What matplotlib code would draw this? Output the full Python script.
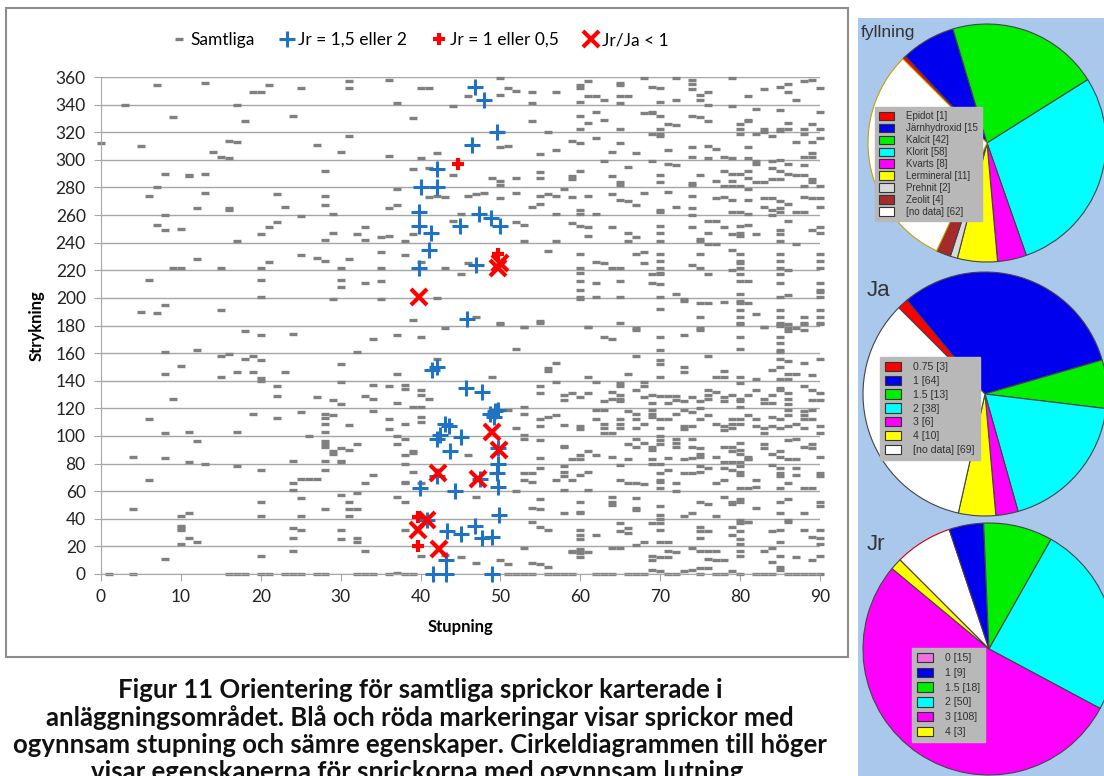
import matplotlib
matplotlib.use("Agg")
import matplotlib.pyplot as plt
from matplotlib.patches import Rectangle, Patch

W, H = 1104, 776

# Samtliga (stupning, strykning)
samtliga = [
(7,354),(13,356),(21,354),(19,349),(20,349),(25,352),(31,357),(31,352),(36,358),(40,352),(41,352),(3,340),(17,340),(37,341),(44,339),(9,331),(18,328),(24,332),(39,330),(0,312),(5,310),(16,314),(17,313),(27,311),(31,317),(14,306),(30,306),(15,302),(16,301),(36,303),(40,301),(42,305),(8,290),(11,289),(11,288),(13,290),(28,292),(39,293),(41,294),(44,289),(7,280),(6,274),(13,276),(22,275),(28,274),(37,279),(41,273),(42,274),(43,273),(12,265),(16,264),(16,265),(8,260),(23,266),(25,259),(28,267),(29,261),(36,265),(37,267),(44,256),(45,261),(7,253),(8,249),(10,250),(17,241),(20,246),(21,251),(22,255),(29,247),(28,242),(32,246),(33,251),(33,242),(35,244),(36,245),(38,241),(39,246),(12,228),(9,222),(10,222),(15,222),(20,222),(21,226),(25,231),(27,229),(28,227),(30,222),(31,228),(35,233),(35,222),(38,231),(40,226),(43,222),(6,213),(20,213),(30,208),(30,213),(33,211),(35,212),(5,190),(7,189),(8,195),(15,191),(20,201),(29,199),(35,199),(42,200),(39,184),(43,178),
(50,359),(51,352),(52,350),(50,347),(54,349),(57,349),(54,341),(60,354),(60,352),(61,357),(61,346),(62,346),(63,343),(65,354),(65,356),(65,346),(66,346),(65,341),(60,342),(68,359),(69,353),(70,352),(70,342),(72,359),(72,343),(74,358),(74,355),(74,351),(75,347),(76,349),(75,343),(76,340),(79,359),(81,346),(83,351),(85,353),(86,355),(86,349),(87,343),(88,357),(89,358),(90,352),(46,346),
(60,332),(61,327),(60,322),(62,335),(63,329),(54,328),(56,320),(65,322),(68,334),(69,335),(69,334),(70,332),(71,326),(72,325),(70,322),(69,319),(70,319),(70,317),(74,332),(75,331),(76,328),(79,339),(82,337),(85,336),(90,335),(80,326),(81,328),(81,329),(80,322),(80,319),(82,319),(83,320),(83,322),(86,327),(86,322),(89,326),(88,322),(88,319),(90,322),(85,321),(85,322),(84,317),
(50,320),(50,309),(51,310),(55,304),(57,307),(59,314),(60,312),(62,316),(65,312),(64,306),(67,305),(71,307),(74,309),(76,310),(77,308),(74,302),(76,301),(78,302),(81,309),(87,313),(89,313),(90,316),(79,301),(81,301),(88,302),(89,302),(89,305),
(63,299),(66,295),(69,299),(71,297),(72,296),(55,291),(55,287),(52,287),(49,287),(50,285),(50,282),(59,288),(59,286),(60,292),(64,288),(65,284),(65,282),(70,289),(70,284),(75,289),(74,283),(74,282),(77,285),(78,292),(79,285),(79,290),(80,290),(81,287),(81,292),(78,281),(79,281),(80,281),(82,299),(82,297),(84,299),(85,300),(84,294),(85,292),(86,290),(82,284),(83,284),(84,286),(85,286),(87,289),(88,289),(89,286),(88,281),(89,284),(90,281),(86,297),(88,296),
(46,274),(47,275),(48,276),(50,272),(52,276),(55,274),(56,275),(57,274),(54,266),(55,268),(57,261),(58,279),(59,273),(61,274),(64,275),(65,271),(66,270),(67,267),(68,276),(71,277),(72,266),(74,274),(74,265),(77,272),(78,273),(79,271),(81,271),(81,279),(83,272),(84,272),(85,270),(86,268),(88,273),(89,272),(90,272),(83,266),(84,264),(85,265),(85,262),(87,262),(88,262),(90,266),(60,264),(60,261),(62,261),(70,264),(70,262),(74,260),(79,262),(80,262),(81,261),(84,260),
(52,255),(53,253),(53,241),(57,241),(59,254),(60,252),(61,251),(61,245),(64,251),(66,247),(67,244),(66,241),(70,252),(70,247),(70,241),(74,251),(76,256),(77,256),(76,247),(75,243),(75,241),(76,239),(78,251),(79,246),(80,252),(80,247),(80,245),(81,253),(82,246),(85,249),(85,246),(85,241),(87,239),(89,249),(90,251),(90,247),(86,256),(77,239),
(56,234),(60,232),(62,226),(63,225),(64,222),(65,222),(67,232),(68,233),(68,225),(70,232),(70,227),(70,222),(74,224),(75,222),(75,232),(79,235),(79,220),(80,232),(80,227),(80,225),(80,222),(85,232),(85,227),(85,222),(86,220),(90,232),(90,227),(90,222),(60,222),(45,217),(46,225),
(60,218),(60,212),(60,206),(60,201),(60,199),(62,211),(65,212),(69,217),(70,217),(70,218),(69,211),(70,210),(72,203),(73,199),(73,198),(70,201),(62,201),(65,201),(76,217),(80,217),(80,212),(81,212),(80,203),(80,198),(85,217),(85,211),(86,202),(85,201),(90,211),(90,206),(90,204),(90,201),
(47,186),(50,181),(53,179),(55,182),(61,179),(67,178),(70,192),(75,196),(75,186),(75,178),(76,196),(78,197),(80,196),(81,196),(80,191),(82,188),(80,186),(80,181),(85,191),(85,186),(86,181),(85,181),(88,181),(88,186),(90,191),(90,186),(90,181),(83,179),(86,178),(87,178),
(18,176),(20,173),(24,174),(34,170),(37,173),(40,172),(8,161),(12,162),(15,158),(16,159),(18,156),(19,158),(20,155),(10,151),(8,145),(15,143),(17,146),(19,146),(20,142),(20,140),(23,146),(30,152),(32,161),(37,145),(42,156),(9,127),(22,136),(22,129),(27,128),(29,126),(30,123),(30,139),(33,129),(34,137),(34,127),(36,136),(38,137),(38,134),(37,124),(40,133),(40,130),(41,127),(39,121),(40,121),(6,112),(8,102),(11,103),(12,96),(17,103),(19,116),(22,113),(25,117),(26,100),(28,116),(29,115),(28,113),(28,109),(28,103),(31,108),(34,118),(36,112),(36,105),(38,109),(40,114),(40,110),(37,100),(38,98),(37,94),(28,92),(28,94),(28,96),(29,89),(29,87),(30,91),(31,90),(32,94),(39,89),(39,88),(38,86),(4,85),(8,84),(11,81),(13,80),(17,78),(20,75),(24,82),(28,82),(30,81),(30,82),(28,75),(38,80),(39,74),(6,68),(24,66),(25,69),(26,69),(27,69),(24,61),(25,55),(20,52),(30,57),(31,52),(32,59),(33,66),(34,72),(38,67),(38,66),(37,56),(38,52),(40,66),(4,47),(10,42),(11,44),(20,42),(25,42),(28,47),(31,47),(31,42),(32,47),(10,35),(10,33),(10,32),(11,26),(10,22),(12,23),(24,33),(25,32),(24,26),(30,32),(30,25),(32,26),(32,23),(38,32),(8,11),(20,13),(24,17),(33,17),(40,13),(43,14),
(1,0),(4,0),(16,0),(17,0),(18,0),(20,0),(21,0),(23,0),(24,0),(25,0),(27,0),(28,0),(32,0),(33,0),(34,0),(36,0),(37,1),(38,0),(39,0),
(50,182),(53,179),(55,183),(61,179),(65,182),(67,177),(70,172),(63,172),(64,170),(73,173),(75,177),(80,182),(80,172),(83,179),(85,180),(85,182),(85,172),(85,167),(85,162),(85,161),(86,176),(88,177),(88,182),(90,182),(52,163),(70,162),(80,163),
(57,153),(56,149),(56,147),(67,158),(70,155),(70,152),(76,158),(73,150),(73,146),(66,145),(61,143),(70,143),(78,147),(77,143),(78,143),(80,143),(84,148),(85,150),(86,154),(85,156),(88,153),(86,145),(87,145),(89,144),(90,156),(85,141),(86,141),(82,141),(49,143),
(55,131),(55,136),(57,139),(58,130),(58,126),(59,131),(60,128),(61,131),(62,139),(63,125),(64,127),(65,138),(65,136),(65,130),(65,127),(65,125),(64,132),(67,133),(68,139),(68,136),(68,128),(69,124),(69,130),(70,129),(71,129),(72,129),(71,124),(72,126),(73,125),(74,128),(75,125),(76,133),(76,130),(76,127),(77,132),(78,128),(78,125),(79,130),(80,127),(80,125),(80,138),(82,133),(83,127),(84,130),(84,124),(85,133),(86,131),(86,127),(85,135),(88,136),(89,133),(90,131),(89,126),(90,126),(81,130),(83,124),(86,123),
(51,119),(53,116),(53,121),(55,112),(56,114),(57,115),(55,107),(52,106),(58,108),(60,107),(60,105),(62,112),(62,119),(63,119),(63,106),(63,109),(65,112),(65,109),(65,106),(66,118),(67,116),(67,112),(67,106),(68,109),(69,114),(69,119),(69,116),(70,112),(70,106),(71,112),(72,116),(73,119),(73,105),(73,107),(74,107),(74,117),(75,120),(75,112),(76,115),(77,109),(78,104),(78,107),(79,112),(79,109),(79,106),(80,109),(80,112),(80,121),(81,115),(82,112),(82,107),(83,106),(84,107),(83,102),(84,114),(85,112),(86,115),(85,106),(86,107),(88,106),(87,109),(88,112),(89,112),(90,107),(90,102),(88,115),(89,119),(86,119),(88,118),(63,102),(64,102),
(53,101),(53,98),(55,97),(58,93),(61,89),(60,86),(60,83),(62,86),(64,85),(67,98),(68,95),(69,92),(69,90),(66,94),(67,92),(70,100),(70,97),(70,94),(72,98),(72,95),(72,92),(74,92),(74,98),(75,91),(75,87),(75,85),(73,83),(74,84),(78,92),(79,89),(79,92),(80,95),(80,90),(80,87),(81,85),(81,83),(83,91),(83,94),(84,87),(85,89),(85,85),(86,97),(87,98),(88,92),(89,91),(90,85),(89,94),(87,83),(86,83),(55,84),(46,86),(59,83),(66,83),(69,83),(71,84),(77,85),(78,81),(79,81),(80,81),(81,83),(58,92),
(53,73),(54,73),(55,77),(53,68),(54,67),(57,68),(58,71),(59,68),(58,78),(58,74),(60,72),(61,74),(58,61),(61,61),(65,79),(65,68),(66,66),(67,66),(68,65),(69,80),(70,80),(70,73),(71,75),(70,67),(70,62),(70,68),(72,66),(72,60),(73,73),(74,73),(75,74),(75,78),(76,77),(77,66),(78,68),(78,77),(79,75),(80,78),(80,74),(80,72),(81,62),(80,62),(82,68),(82,63),(84,79),(85,77),(85,73),(85,71),(87,77),(87,72),(90,73),(90,71),(85,62),(88,62),(89,62),(86,66),
(47,56),(52,60),(55,54),(54,48),(55,47),(58,44),(60,52),(60,45),(60,44),(64,50),(64,52),(64,56),(67,55),(67,46),(67,48),(70,49),(70,43),(70,40),(69,37),(70,37),(73,42),(74,44),(75,52),(76,51),(78,56),(79,51),(79,52),(80,52),(80,54),(77,42),(80,39),(81,38),(82,48),(85,52),(86,54),(85,44),(86,39),(86,38),(90,52),(90,49),(88,44),
(54,38),(55,34),(56,32),(60,32),(60,28),(60,25),(62,28),(65,37),(65,31),(66,33),(66,30),(70,32),(68,23),(70,23),(71,23),(75,34),(75,31),(76,31),(79,34),(79,28),(80,37),(80,31),(80,25),(80,22),(81,38),(84,31),(85,32),(85,23),(89,27),(90,32),(90,26),(90,22),(75,26),(88,32),
(45,12),(47,8),(50,10),(51,7),(53,19),(54,8),(55,7),(56,5),(59,17),(59,16),(60,17),(60,15),(60,12),(60,18),(61,16),(64,19),(65,19),(67,21),(69,13),(69,10),(70,12),(71,17),(72,16),(71,12),(74,19),(75,17),(76,17),(77,17),(76,11),(77,10),(78,10),(75,4),(76,4),(80,17),(80,13),(83,17),(84,19),(84,9),(85,13),(85,5),(85,3),(87,12),(89,10),(90,13),(69,3),(70,2),(73,2),(74,3),(79,2),(80,0),
(51,0),(52,0),(53,0),(54,0),(56,0),(57,0),(58,0),(59,0),(62,0),(63,0),(64,0),(66,0),(67,0),(68,0),(71,0),(72,0),(75,0),(77,0),(78,0),(82,0),(83,0),(84,0),(86,0),(87,0),(88,0),(89,0),(90,0),
]

# Jr = 1,5 eller 2
blue_stupning = [46.8, 48, 49.6, 46.4, 42, 40, 42.1, 39.8, 39.8, 41.3, 41, 39.8, 47.3, 48.8, 49.9, 44.9, 46.9, 45.8,
                 41.4, 42, 45.7, 47.7, 49.3, 49.7, 48.7, 49.2, 43, 43.5, 42.1, 42.4, 43.7, 42, 39.9, 44.3,
                 40.8, 43.3, 43.2, 41.5, 43.2, 45.1, 49.7, 49.7, 49.6, 49.7, 47.4, 49.8, 46.8, 45.1, 47.7, 48.9, 48.9]
blue_strykning = [353, 343, 320, 311, 293, 280, 280, 262, 252, 247, 235, 222, 261, 258, 252, 252, 224, 185,
                  148, 150, 135, 132, 118, 119, 116, 114, 109, 107, 98, 101, 89, 71, 62, 60,
                  39, 31, 10, 0, 0, 99, 91, 80, 73, 63, 69, 43, 35, 29, 26, 27, 0]

# Jr = 1 eller 0,5
red_stupning = [44.7, 49.7, 39.7, 39.7]
red_strykning = [297, 232, 41, 20]

# Jr/Ja < 1
x_stupning = [39.8, 49.7, 49.9, 42.2, 49, 49.8, 47.2, 40.8, 39.7, 42.3]
x_strykning = [201, 222, 225, 73, 103, 90, 69, 39, 32, 18]

# cirkeldiagram
fyll_labels = ["Epidot [1]", "Järnhydroxid [15", "Kalcit [42]", "Klorit [58]", "Kvarts [8]",
               "Lermineral [11]", "Prehnit [2]", "Zeolit [4]", "[no data] [62]"]
fyll_values = [1, 15, 42, 58, 8, 11, 2, 4, 62]
fyll_colors = ["#ff0000", "#0000ee", "#00ee00", "#00ffff", "#ff00ff", "#ffff00", "#d9d9d9", "#a52a2a", "#ffffff"]

ja_labels = ["0.75 [3]", "1 [64]", "1.5 [13]", "2 [38]", "3 [6]", "4 [10]", "[no data] [69]"]
ja_values = [3, 64, 13, 38, 6, 10, 69]
ja_colors = ["#ff0000", "#0000ee", "#00ee00", "#00ffff", "#ff00ff", "#ffff00", "#ffffff"]

jr_labels = ["0 [15]", "1 [9]", "1.5 [18]", "2 [50]", "3 [108]", "4 [3]"]
jr_values = [15, 9, 18, 50, 108, 3]
jr_colors = ["#ffffff", "#0000ee", "#00ee00", "#00ffff", "#ff00ff", "#ffff00"]

plt.rcParams['font.family'] = ['Lato', 'DejaVu Sans']

fig = plt.figure(figsize=(W / 100, H / 100), dpi=100)

# ram runt diagrammet
fig.patches.append(Rectangle((6 / W, 1 - 657 / H), 842 / W, 649 / H, transform=fig.transFigure,
                             fill=False, edgecolor="#8c8c8c", lw=1.5))

ax = fig.add_axes([101 / W, 1 - 574 / H, 719 / W, 497 / H])
st = [p[0] for p in samtliga]
sk = [p[1] for p in samtliga]
h1, = ax.plot(st, sk, ls='none', marker='_', ms=5.5, mew=2.4, color='#808080', clip_on=False, zorder=2)
h2, = ax.plot(blue_stupning, blue_strykning, ls='none', marker='+', ms=11, mew=2.2, color='#1f72c4',
              clip_on=False, zorder=3)
h3, = ax.plot(red_stupning, red_strykning, ls='none', marker='+', ms=9, mew=3, color='#ff0000',
              clip_on=False, zorder=4)
h4, = ax.plot(x_stupning, x_strykning, ls='none', marker='x', ms=12, mew=3, color='#ff0000',
              clip_on=False, zorder=5)

ax.set_xlim(0, 90)
ax.set_ylim(0, 360)
ax.set_xticks(range(0, 91, 10))
ax.set_yticks(range(0, 361, 20))
ax.yaxis.grid(True, color='#a6a6a6', lw=1)
ax.set_axisbelow(True)
for s in ['top', 'right']:
    ax.spines[s].set_visible(False)
for s in ['left', 'bottom']:
    ax.spines[s].set_color('#a6a6a6')
ax.tick_params(colors='#a6a6a6', labelcolor='#222222', labelsize=12.5, length=5, pad=6)
ax.set_xlabel("Stupning", fontsize=12, fontweight='bold', labelpad=10)
ax.set_ylabel("Strykning", fontsize=12, fontweight='bold', labelpad=8)

fig.legend([h1, h2, h3, h4], ["Samtliga", "Jr = 1,5 eller 2", "Jr = 1 eller 0,5", "Jr/Ja < 1"],
           loc='center', bbox_to_anchor=(420 / W, 1 - 40 / H), ncol=4, frameon=False,
           fontsize=12.5, handletextpad=0.2, columnspacing=1.4, handlelength=0.9)

caption = ["Figur 11 Orientering för samtliga sprickor karterade i",
           "anläggningsområdet. Blå och röda markeringar visar sprickor med",
           "ogynnsam stupning och sämre egenskaper. Cirkeldiagrammen till höger",
           "visar egenskaperna för sprickorna med ogynnsam lutning."]
for i, line in enumerate(caption):
    fig.text(420 / W, 1 - (690 + 27.5 * i) / H, line, ha='center', va='center',
             fontsize=18.5, fontweight='bold', color='#111111')

# blå panel med cirkeldiagram
fig.patches.append(Rectangle((858 / W, 0), (W - 858) / W, 1 - 18 / H, transform=fig.transFigure,
                             facecolor="#a9c8ec", edgecolor='none', zorder=-5))


def pie_panel(cx, cy, r, values, colors, edges, labels, leg_colors, leg_box, fs, lsp,
              title, tpos, tsize):
    pax = fig.add_axes([(cx - r) / W, 1 - (cy + r) / H, 2 * r / W, 2 * r / H])
    wedges, _ = pax.pie(values, colors=colors, startangle=135, counterclock=False,
                        wedgeprops=dict(linewidth=0.8))
    for w, e in zip(wedges, edges):
        w.set_edgecolor(e)
        w.set_clip_on(False)
    pax.set_xlim(-1, 1)
    pax.set_ylim(-1, 1)
    pax.set_axis_off()
    handles = [Patch(facecolor=c, edgecolor='#333333', lw=0.8) for c in leg_colors]
    leg = pax.legend(handles, labels, loc='upper left',
                     bbox_to_anchor=(leg_box[0] / W, 1 - leg_box[1] / H),
                     bbox_transform=fig.transFigure, fontsize=fs, frameon=True, fancybox=False,
                     facecolor='#b8b8b8', edgecolor='#b8b8b8', framealpha=1,
                     handlelength=1.5, handleheight=1.0, labelspacing=lsp, borderpad=0.45,
                     handletextpad=1.2, borderaxespad=0)
    for t in leg.get_texts():
        t.set_color('#303030')
        t.set_fontfamily(['Liberation Sans', 'DejaVu Sans'])
    fig.text(tpos[0] / W, 1 - tpos[1] / H, title, fontsize=tsize, color='#333333',
             va='center', ha='left', family=['Liberation Sans', 'DejaVu Sans'])


pie_panel(987, 143, 119, fyll_values, fyll_colors, ['#444444'] * 8 + ['#c8a000'],
          fyll_labels, fyll_colors, (875, 107), 7, 0.2, "fyllning", (861, 33), 12.5)
pie_panel(985, 394, 122, ja_values, ja_colors, ['#444444'] * 7,
          ja_labels, ja_colors, (880, 357), 7.6, 0.33, "Ja", (867, 290), 16)
pie_panel(989, 649, 126, jr_values, jr_colors, ['#cc0000'] + ['#444444'] * 5,
          jr_labels, ['#f070e0'] + jr_colors[1:], (912, 648), 7.6, 0.42, "Jr", (867, 545), 16)

fig.savefig("out.png", dpi=100)
